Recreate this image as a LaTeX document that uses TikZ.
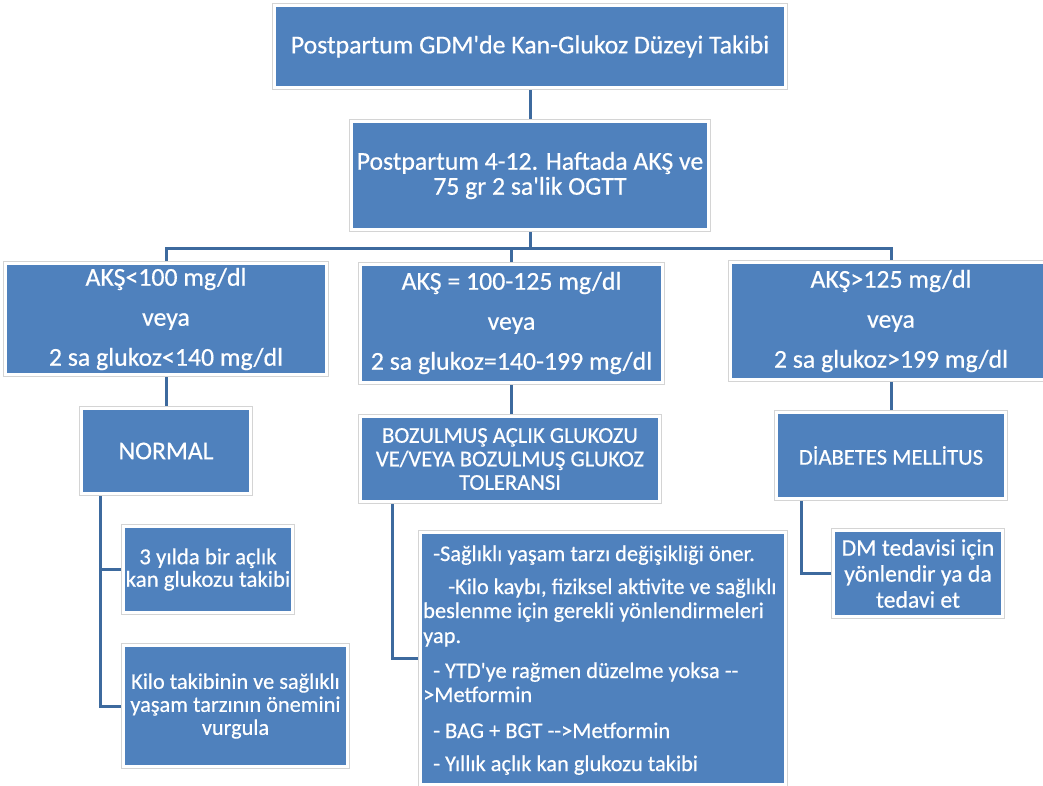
\documentclass[tikz,border=0pt]{standalone}
\usepackage{fontspec}
\setmainfont{Carlito}[Ligatures=TeXOff, FakeBold=0.5]
\usetikzlibrary{backgrounds}
\definecolor{boxblue}{HTML}{4F81BD}
\definecolor{linkblue}{HTML}{3D6A9E}
\newcommand{\fsz}[2]{\fontsize{#1}{#2}\selectfont}
\begin{document}
\begin{tikzpicture}[x=1pt,y=-1pt,
  box/.style={rectangle, fill=boxblue, draw=white, line width=3pt,
    preaction={draw=black!17, line width=5pt}, text=white, inner sep=0pt, align=center},
  link/.style={draw=linkblue, line width=3pt},
  listline/.style={anchor=base west, inner sep=0pt, text=white, font=\fsz{22.4}{25}}]
\useasboundingbox (0,0) rectangle (1043,785);
\clip (0,0) rectangle (1043,785);

% level 1-2
\node[box, minimum width=511pt, minimum height=82pt, font=\fsz{25.8}{29}] (title) at (530,46.5)
  {Postpartum GDM'de Kan-Glukoz Düzeyi Takibi};
\node[box, minimum width=357pt, minimum height=108pt, font=\fsz{25.7}{25}] (test) at (530,175.5)
  {Postpartum 4-12. Haftada AKŞ ve\\75 gr 2 sa'lik OGTT};

% level 3
\node[box, minimum width=321pt, minimum height=111pt, font=\fsz{25.8}{40}] (low) at (166,319)
  {AKŞ<100 mg/dl\\veya\\2 sa glukoz<140 mg/dl};
\node[box, minimum width=302pt, minimum height=118pt, font=\fsz{25.8}{40}] (mid) at (511.5,323)
  {AKŞ = 100-125 mg/dl\\veya\\2 sa glukoz=140-199 mg/dl};
\node[box, minimum width=321pt, minimum height=117pt, font=\fsz{25.8}{40}] (high) at (891,321)
  {AKŞ>125 mg/dl\\veya\\2 sa glukoz>199 mg/dl};

% level 4
\node[box, minimum width=169pt, minimum height=85pt, font=\fsz{25.6}{30}] (normal) at (166,451)
  {NORMAL};
\node[box, minimum width=299pt, minimum height=85pt, font=\fsz{22.6}{23.5}] (boz) at (510,459)
  {BOZULMUŞ AÇLIK GLUKOZU\\VE/VEYA BOZULMUŞ GLUKOZ\\TOLERANSI};
\node[box, minimum width=229pt, minimum height=86pt, font=\fsz{22.6}{27}] (dm) at (891,455.5)
  {DİABETES MELLİTUS};

% level 5
\node[box, minimum width=169pt, minimum height=86pt, font=\fsz{22.8}{22.5}] (sub1) at (208,569.5)
  {3 yılda bir açlık\\kan glukozu takibi};
\node[box, minimum width=224pt, minimum height=121pt, font=\fsz{22.3}{23}] (sub2) at (235.5,706)
  {Kilo takibinin ve sağlıklı\\yaşam tarzının önemini\\vurgula};
\node[box, minimum width=365pt, minimum height=252pt] (list) at (603,658.5) {};
\node[box, minimum width=169pt, minimum height=86pt, font=\fsz{23.7}{26}] (dmsub) at (918,573.5)
  {DM tedavisi için\\yönlendir ya da\\tedavi et};

% list text
\node[listline] (l1) at (433,561) {-Sağlıklı yaşam tarzı değişikliği öner.};
\node[listline] (l2) at (448,594) {-Kilo kaybı, fiziksel aktivite ve sağlıklı};
\node[listline] (l3) at (423,618) {beslenme için gerekli yönlendirmeleri};
\node[listline] (l4) at (423,643) {yap.};
\node[listline] (l5) at (433,678) {- YTD'ye rağmen düzelme yoksa --};
\node[listline] (l6) at (423,702) {>Metformin};
\node[listline] (l7) at (433,738) {- BAG + BGT -->Metformin};
\node[listline] (l8) at (433,771) {- Yıllık açlık kan glukozu takibi};

% connectors
\coordinate (bus) at (530,248);
\coordinate (ntrunk) at (100,492);
\coordinate (btrunk) at (392,500);
\coordinate (dtrunk) at (801,497);
\begin{scope}[on background layer]
  \fill[white] (0,0) rectangle (1043,785);
  \draw[link] (title) -- (test);
  \draw[link] (test) -- (bus);
  \draw[link] (low.north) |- (bus);
  \draw[link] (mid.north) |- (bus);
  \draw[link] (high.north) |- (bus);
  \draw[link] (low) -- (normal);
  \draw[link] (mid) -- (mid |- boz.north);
  \draw[link] (high) -- (dm);
  \draw[link] (ntrunk) |- (sub1.west);
  \draw[link] (ntrunk) |- (sub2.west);
  \draw[link] (btrunk) |- (list.west);
  \draw[link] (dtrunk) |- (dmsub.west);
\end{scope}
\end{tikzpicture}
\end{document}
